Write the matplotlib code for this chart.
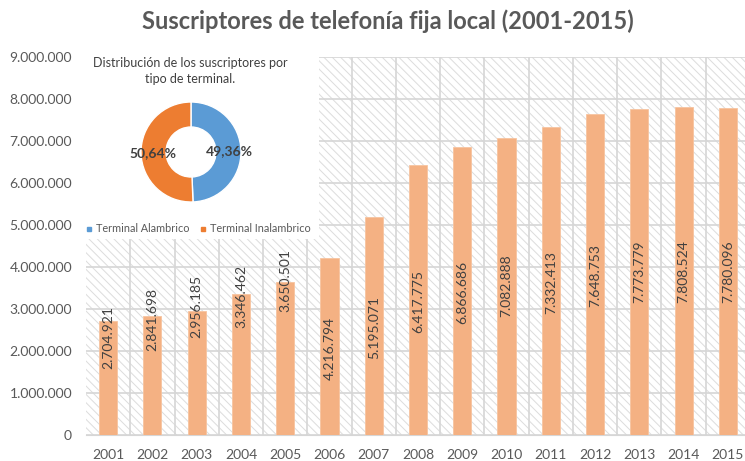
import matplotlib
matplotlib.use('Agg')
import matplotlib.pyplot as plt
from matplotlib.patches import Rectangle
from matplotlib.lines import Line2D
from matplotlib.ticker import FuncFormatter

plt.rcParams['font.family'] = ['Lato', 'DejaVu Sans']
plt.rcParams['hatch.linewidth'] = 0.7
plt.rcParams['hatch.color'] = '#dcdcdc'

# datos
years = ['2001', '2002', '2003', '2004', '2005', '2006', '2007', '2008',
         '2009', '2010', '2011', '2012', '2013', '2014', '2015']
subscribers = [2704921, 2841698, 2956185, 3346462, 3650501, 4216794, 5195071,
               6417775, 6866686, 7082888, 7332413, 7648753, 7773779, 7808524,
               7780096]
# altura (en unidades del eje) donde se ubicó cada etiqueta en el original
label_y = [2.31e6, 2.76e6, 3.05e6, 3.29e6, 3.67e6, 2.07e6, 2.57e6, 3.17e6,
           3.40e6, 3.55e6, 3.64e6, 3.79e6, 3.88e6, 3.90e6, 3.88e6]

terminal_types = ['Terminal Alambrico', 'Terminal Inalambrico']
terminal_share = [49.36, 50.64]

W, H = 745, 461
fig = plt.figure(figsize=(W / 100, H / 100), dpi=100)

# eje principal (se sale un poco por la derecha, como en la imagen original)
ax = fig.add_axes([86 / W, (H - 435) / H, 664 / W, 378 / H])
x = range(len(years))
ax.add_patch(Rectangle((-0.5, 0), len(years), 9e6, facecolor='white',
                       hatch='\\\\\\\\', edgecolor='#dcdcdc', linewidth=0, zorder=0))
ax.bar(x, subscribers, width=0.41, color='#f4b183', edgecolor='#f7c4a0',
       linewidth=0.6, zorder=3)

for i, v in enumerate(subscribers):
    ax.text(i, label_y[i], f'{v:,}'.replace(',', '.'), rotation=90,
            ha='center', va='center', fontsize=10, color='#404040', zorder=4)

ax.set_xlim(-0.5, len(years) - 0.5)
ax.set_ylim(0, 9e6)
ax.set_yticks([i * 1e6 for i in range(10)])
ax.yaxis.set_major_formatter(FuncFormatter(lambda v, p: f'{int(v):,}'.replace(',', '.')))
ax.set_xticks(list(x))
ax.set_xticklabels(years)
ax.set_xticks([i + 0.5 for i in range(len(years) - 1)], minor=True)
ax.tick_params(axis='both', length=0, labelsize=10, colors='#595959', pad=10)
ax.tick_params(axis='x', which='both', length=0, pad=10)
ax.grid(axis='y', which='major', color='#d6d6d6', linewidth=1.2, zorder=1)
ax.grid(axis='x', which='minor', color='#d6d6d6', linewidth=1.2, zorder=1)
ax.set_axisbelow(True)
for s in ['top', 'right', 'left']:
    ax.spines[s].set_visible(False)
ax.spines['bottom'].set_color('#d6d6d6')

# recuadro blanco con el gráfico de anillo
box = fig.add_axes([86 / W, (H - 239) / H, 233 / W, 182 / H])
box.set_facecolor('white')
for s in box.spines.values():
    s.set_visible(False)
box.set_zorder(5)

wedges, texts, autotexts = box.pie(
    terminal_share, colors=['#5b9bd5', '#ed7d31'], startangle=90,
    counterclock=False, center=(105, 87), radius=50, frame=True,
    wedgeprops=dict(width=25, edgecolor='white', linewidth=1),
    autopct=lambda p: f'{p:.2f}%'.replace('.', ','), pctdistance=0.76)
for t in autotexts:
    t.set_fontsize(10)
    t.set_fontweight('bold')
    t.set_color('#404040')
box.set_xlim(0, 233)
box.set_ylim(0, 182)
box.set_aspect('equal')
box.set_xticks([])
box.set_yticks([])

box.text(104, 168, 'Distribución de los suscriptores por\ntipo de terminal.',
         ha='center', va='center', fontsize=9, color='#404040', linespacing=1.35)

handles = [Line2D([], [], marker='s', linestyle='', markersize=3.5, color=c)
           for c in ['#5b9bd5', '#ed7d31']]
box.legend(handles, terminal_types, loc='center', bbox_to_anchor=(111, 10),
           bbox_transform=box.transData, ncol=2, frameon=False, fontsize=7.8,
           labelcolor='#595959', handletextpad=0.1, columnspacing=0.8,
           handlelength=1)

fig.text(388 / W, 1 - 21 / H, 'Suscriptores de telefonía fija local (2001-2015)',
         ha='center', va='center', fontsize=17, fontweight='bold', color='#595959')

fig.savefig('out.png', dpi=100)
